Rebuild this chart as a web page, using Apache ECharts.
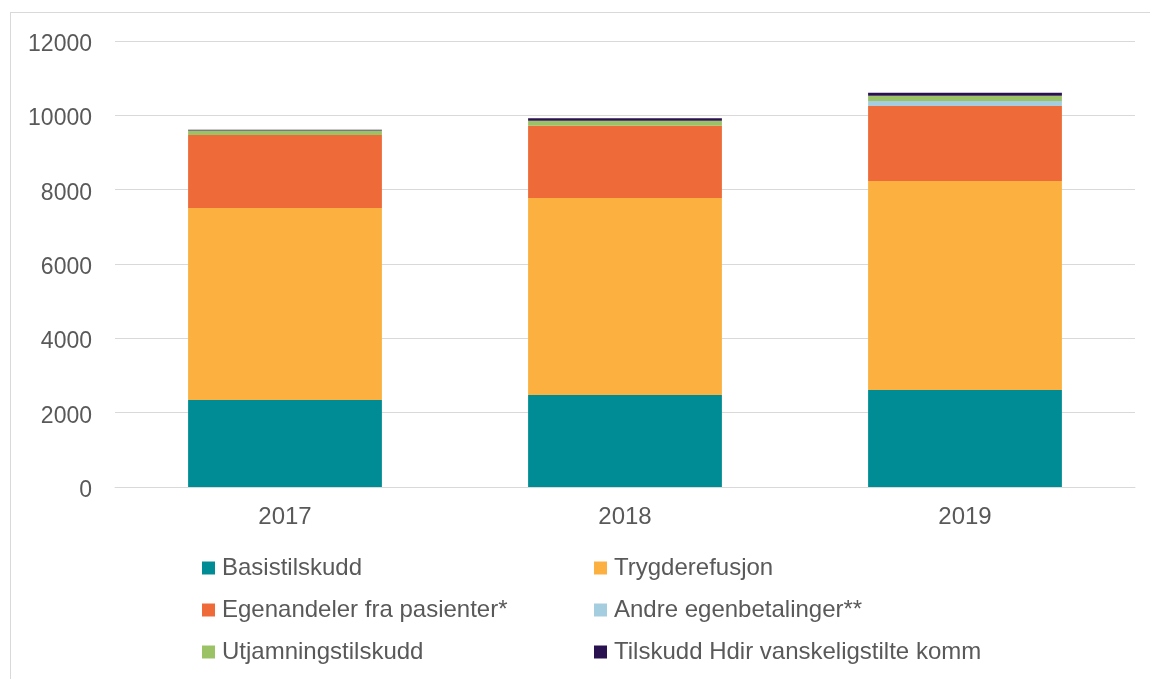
<!DOCTYPE html>
<html>
<head>
<meta charset="utf-8">
<script src="https://cdn.jsdelivr.net/npm/echarts@6/dist/echarts.min.js"></script>
<style>
  html, body { margin: 0; padding: 0; background: #fff; }
  #chart { width: 1150px; height: 679px; }
  #frame { position: absolute; left: 10px; top: 12px; width: 1150px; height: 700px; border: 1px solid #d9d9d9; box-sizing: border-box; pointer-events: none; }
</style>
</head>
<body>
<div id="chart"></div>
<div id="frame"></div>
<script>
const YEARS = ["2017", "2018", "2019"];
const SERIES_NAMES = [
  "Basistilskudd",
  "Trygderefusjon",
  "Egenandeler fra pasienter*",
  "Andre egenbetalinger**",
  "Utjamningstilskudd",
  "Tilskudd Hdir vanskeligstilte komm"
];
const COLORS = ["#008C95", "#FBB040", "#EE6A38", "#A5CDE0", "#9BC264", "#2A1150"];

const basistilskudd = [2340, 2475, 2610];
const trygderefusjon = [5165, 5300, 5620];
const egenandeler = [1965, 1945, 2018];
const andreEgenbetalinger = [0, 0, 135];
const utjamningstilskudd = [120, 135, 143];
const tilskuddHdir = [25, 65, 80];

const VALUES = [basistilskudd, trygderefusjon, egenandeler, andreEgenbetalinger, utjamningstilskudd, tilskuddHdir];

const textColor = "#595959";
const font = "Liberation Sans, Arial, sans-serif";

// legend laid out as two columns, three rows
const legendPos = [
  { left: 197, top: 551 }, { left: 589, top: 551 },
  { left: 197, top: 593 }, { left: 589, top: 593 },
  { left: 197, top: 635 }, { left: 589, top: 635 }
];

const chart = echarts.init(document.getElementById("chart"));

chart.setOption({
  backgroundColor: "#fff",
  animation: false,
  grid: { left: 115, right: 15, top: 41, bottom: 192, containLabel: false },
  legend: SERIES_NAMES.map((name, i) => ({
    data: [name],
    left: legendPos[i].left,
    top: legendPos[i].top,
    itemWidth: 13,
    itemHeight: 13,
    itemGap: 0,
    icon: "rect",
    textStyle: { color: textColor, fontSize: 24, fontFamily: font, padding: [0, 0, 0, 2] },
    selectedMode: false
  })),
  xAxis: {
    type: "category",
    data: YEARS,
    axisLine: { lineStyle: { color: "#d9d9d9", width: 1 } },
    axisTick: { show: false },
    axisLabel: { color: textColor, fontSize: 24, fontFamily: font, margin: 18 }
  },
  yAxis: {
    type: "value",
    min: 0,
    max: 12000,
    interval: 2000,
    axisLine: { show: false },
    axisTick: { show: false },
    splitLine: { lineStyle: { color: "#d9d9d9", width: 1 } },
    axisLabel: {
      color: textColor, fontSize: 23, fontFamily: font, margin: 23,
      verticalAlign: "top",
      padding: [-8, 0, 0, 0],
      formatter: (v) => String(v)
    }
  },
  series: SERIES_NAMES.map((name, i) => ({
    name,
    type: "bar",
    stack: "total",
    barWidth: "57%",
    itemStyle: { color: COLORS[i] },
    data: VALUES[i]
  }))
});
</script>
</body>
</html>
